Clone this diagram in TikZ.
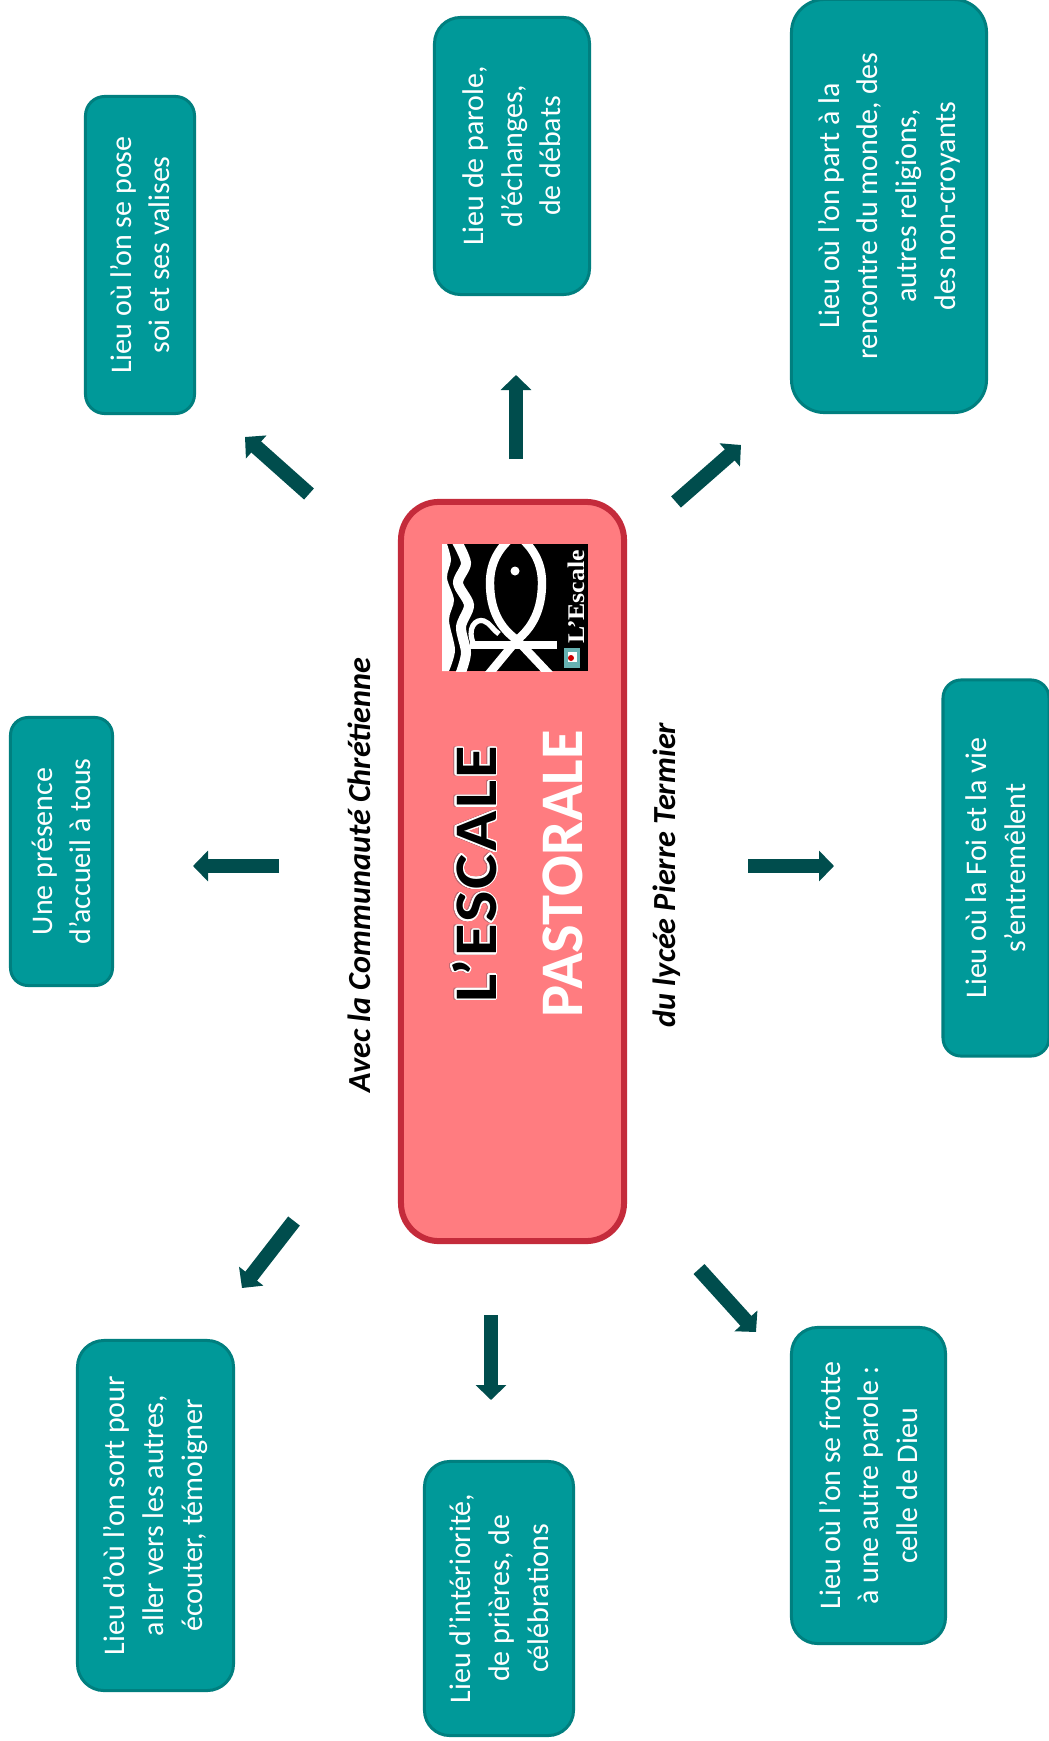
\documentclass[tikz,border=0pt]{standalone}
\usepackage{fontspec}
\usepackage[copies]{contour}
\setmainfont{Carlito}
\usetikzlibrary{arrows.meta}
\definecolor{sarcelle}{HTML}{009999}
\definecolor{sarcellebord}{HTML}{007F7F}
\definecolor{fleche}{HTML}{004D4D}
\definecolor{rose}{HTML}{FF7C80}
\definecolor{rosebord}{HTML}{C42B3B}
\definecolor{ombre}{HTML}{C06C74}
\contournumber{32}
\newcommand{\detoure}[1]{%
  \contourlength{0.9pt}%
  \rlap{\raisebox{1.2pt}{\contour{ombre}{#1}}}\contour{white}{#1}}

\begin{document}
\begin{tikzpicture}[
      x = 0.025cm, y = -0.025cm,
      >=latex,
      lieu/.style = {
        rectangle, draw = sarcellebord, fill = sarcelle, line width = .75mm,
        rotate = 90, align = center, inner sep = 0, text = white,
        font = {\fontsize{21.3}{27.5}\selectfont}
      },
      centre/.style = {
        rectangle, draw = rosebord, fill = rose, line width = 1.5mm,
        rotate = 90, inner sep = 0, rounded corners = 9.5mm
      },
      titre/.style = { rotate = 90, inner sep = 0, font = {\fontsize{43}{50}\selectfont\bfseries} },
      legende/.style = { rotate = 90, inner sep = 0, font = {\fontsize{22.9}{25}\selectfont\bfseries\itshape} },
      versbox/.style = { fleche, line width = 3.7mm, -{Triangle[length = 3.75mm, width = 7.5mm]} },
    ]
    \useasboundingbox (0,0) rectangle (1049,1741);

    %% boxes
    \node[lieu, minimum width = 79.25mm, minimum height = 27.25mm, rounded corners = 4.8mm] (valises) at (140,255) {Lieu où l’on se pose\\ soi et ses valises};
    \node[lieu, minimum width = 69.25mm, minimum height = 38.75mm, rounded corners = 6.5mm] (parole) at (512,156) {Lieu de parole,\\ d’échanges,\\ de débats};
    \node[lieu, minimum width = 103.25mm, minimum height = 48.75mm, rounded corners = 8.2mm] (monde) at (889,206) {Lieu où l’on part à la\\ rencontre du monde, des\\ autres religions,\\ des non-croyants};
    \node[lieu, minimum width = 67mm, minimum height = 25.5mm, rounded corners = 4.4mm] (accueil) at (61.5,851.5) {Une présence\\ d’accueil à tous};
    \node[lieu, minimum width = 94mm, minimum height = 26.5mm, rounded corners = 4.5mm] (foi) at (996,868) {Lieu où la Foi et la vie\\ s’entremêlent};
    \node[lieu, minimum width = 87.5mm, minimum height = 39mm, rounded corners = 6.6mm] (sortir) at (155.5,1515.5) {Lieu d’où l’on sort pour\\ aller vers les autres,\\ écouter, témoigner};
    \node[lieu, minimum width = 68.5mm, minimum height = 37.25mm, rounded corners = 6.3mm] (priere) at (499,1598.5) {Lieu d’intériorité,\\ de prières, de\\ célébrations};
    \node[lieu, minimum width = 79mm, minimum height = 38.5mm, rounded corners = 6.5mm] (dieu) at (868.5,1485.5) {Lieu où l’on se frotte\\ à une autre parole :\\ celle de Dieu};

    %% centre
    \node[centre, minimum width = 184.75mm, minimum height = 55.75mm] (escale) at (512.5,871.5) {};
    \node[titre, text = black] (nom) at (474,874) {\addfontfeature{LetterSpace=3.5}\scalebox{1.1}[1]{\detoure{L’ESCALE}}};
    \node[titre, text = white] (pastorale) at (562.5,874) {PASTORALE};
    \node[legende] (avec) at (359,875) {Avec la Communauté Chrétienne};
    \node[legende] (lycee) at (667,875) {du lycée Pierre Termier};

    %% logo
    \begin{scope}
      \clip (442,544) rectangle (588,671);
      \fill[black] (442,544) rectangle (588,671);
      \fill[white] plot[smooth] coordinates {(447,544) (451,560) (447,578) (454,600) (449,620) (455,650) (449,671)} -- (442,671) -- (442,544) -- cycle;
      \draw[white, line width = 2.5mm] plot[smooth] coordinates {(456,540) (466,563) (458,583) (469,605) (461,627) (466,653) (460,675)};
      \draw[white, line width = 2.1mm] (516,534) .. controls (497,548) and (490,565) .. (490,583) .. controls (490,610) and (500,628) .. (517,640) -- (550,675);
      \draw[white, line width = 2.1mm] (516,534) .. controls (535,548) and (542,565) .. (542,583) .. controls (542,610) and (532,628) .. (517,640) -- (488,675);
      \fill[white] (515,571) circle (4.5);
      \draw[white, line width = 2mm] (470,645) -- (557,645);
      \draw[white, line width = 1.3mm] (474,645) .. controls (466,628) and (476,618) .. (484,621) .. controls (490,623) and (493,630) .. (499,634);
      \node[rotate = 90, text = white, inner sep = 0, font = {\fontsize{17}{19}\selectfont\bfseries}] (signe) at (576,597) {\fontspec{Liberation Serif}\scalebox{1.08}[1]{L’Escale}};
      \fill[teal!60] (564,648) rectangle (580,668);
      \fill[white] (568,652) rectangle (577,662);
      \fill[red!80!black] (571,658) circle (3);
    \end{scope}

    %% arrows
    \coordinate (haut0) at (516,459);       \coordinate (haut1) at (516,375);
    \coordinate (hautg0) at (309,494);      \coordinate (hautg1) at (245,437);
    \coordinate (hautd0) at (676,502);      \coordinate (hautd1) at (741,445);
    \coordinate (gauche0) at (279,866);     \coordinate (gauche1) at (193,866);
    \coordinate (droite0) at (748,866);     \coordinate (droite1) at (834,866);
    \coordinate (basg0) at (294,1221);      \coordinate (basg1) at (242,1288);
    \coordinate (bas0) at (491,1315);       \coordinate (bas1) at (491,1400);
    \coordinate (basd0) at (699,1269);      \coordinate (basd1) at (756,1332);

    \foreach \d in {haut, hautg, hautd, gauche, droite, basg, bas, basd} {
      \draw[versbox] (\d0) to (\d1);
    }
\end{tikzpicture}
\end{document}
